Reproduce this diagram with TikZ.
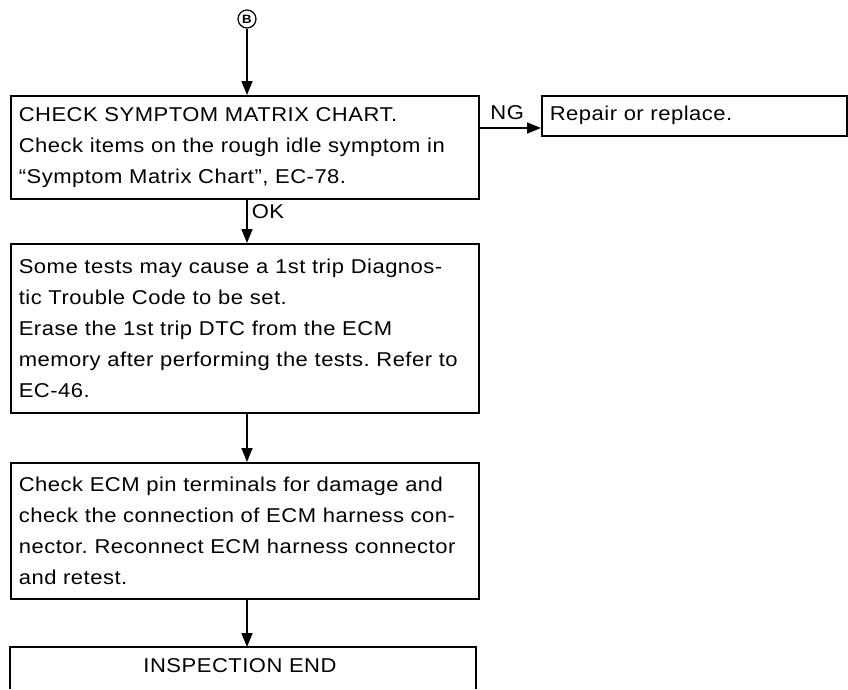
\documentclass[tikz,border=0pt]{standalone}
\usepackage{fontspec}
\setmainfont[FakeStretch=1.1,LetterSpace=2.5]{Liberation Sans}
\usetikzlibrary{positioning,arrows.meta}
\tikzset{
  stepbox/.style={draw,line width=1.6pt,anchor=north west,inner sep=8pt,
    text width=452pt,minimum width=468pt,align=left,
    font=\fontsize{20}{31}\selectfont},
  flow/.style={-{Triangle[length=14pt,width=11pt]},line width=1.6pt},
  tag/.style={font=\fontsize{20}{20}\selectfont,inner sep=2pt},
}
\begin{document}
\frenchspacing
\begin{tikzpicture}[x=1pt,y=1pt]
  \useasboundingbox (0,0) rectangle (848,-689);
  % entry point
  \node[circle,draw,line width=1.2pt,inner sep=0pt,minimum size=18pt,
        font=\bfseries\fontsize{12}{12}\selectfont] (entry) at (247,-19) {B};
  \node[stepbox,minimum height=103pt] (symptom) at (10,-95) {%
    CHECK SYMPTOM MATRIX CHART.\\
    Check items on the rough idle symptom in\\
    ``Symptom Matrix Chart'', EC-78.};
  \node[draw,line width=1.6pt,anchor=north west,minimum width=305pt,
        minimum height=40pt,inner sep=8pt,text width=289pt,align=left,
        font=\fontsize{20}{31}\selectfont] (repair) at (541,-95)
        {Repair or replace.};
  \node[stepbox,minimum height=169pt] (erase) at (10,-243) {%
    Some tests may cause a 1st trip Diagnos-\\
    tic Trouble Code to be set.\\
    Erase the 1st trip DTC from the ECM\\
    memory after performing the tests. Refer to\\
    EC-46.};
  \node[stepbox,minimum height=136pt] (pins) at (10,-462) {%
    Check ECM pin terminals for damage and\\
    check the connection of ECM harness con-\\
    nector. Reconnect ECM harness connector\\
    and retest.};
  % open box at the bottom
  \coordinate (endtop) at (10,-647);
  \draw[line width=1.6pt] (10,-689) -- (endtop) -- ++(466,0) -- ++(0,-42);
  \node[tag] (finish) at (240,-666) {INSPECTION END};
  % connectors
  \coordinate (ngrow) at (0,-128);
  \draw[flow] (entry.south) -- (entry.south |- symptom.north);
  \draw[flow] (symptom.east |- ngrow) -- (ngrow -| repair.west)
    node[tag,pos=0.45,above=6pt] (ng) {NG};
  \draw[flow] (247,-198) -- (247,-243)
    node[tag,pos=0.3,right=2pt] (ok) {OK};
  \draw[flow] (247,-412) -- (247,-462);
  \draw[flow] (247,-598) -- (endtop -| 247,0);
\end{tikzpicture}
\end{document}
